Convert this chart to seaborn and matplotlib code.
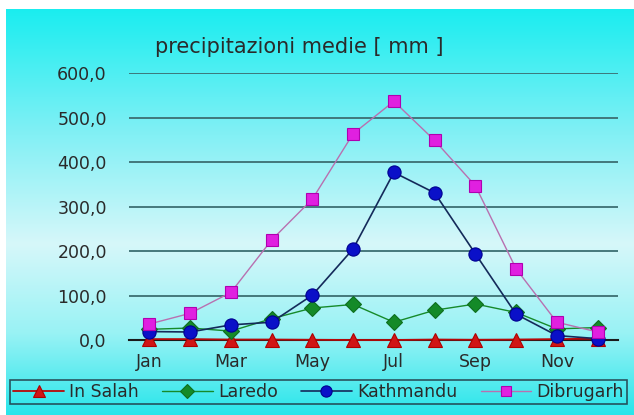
import numpy as np
import pandas as pd
import matplotlib
matplotlib.use("Agg")
import matplotlib.pyplot as plt
import seaborn as sns
from matplotlib.colors import LinearSegmentedColormap

# ---- data ----
months = ['Jan', 'Feb', 'Mar', 'Apr', 'May', 'Jun', 'Jul', 'Aug', 'Sep', 'Oct', 'Nov', 'Dec']
shown_months = ['Jan', 'Mar', 'May', 'Jul', 'Sep', 'Nov']
in_salah = [2, 2, 1, 1, 0.5, 0, 0, 1, 0.5, 1, 2, 3]
laredo = [24, 27, 20, 48, 72, 80, 40, 67, 81, 62, 25, 28]
kathmandu = [19, 18, 34, 40, 101, 205, 377, 331, 194, 58, 10, 3]
dibrugarh = [36, 60, 107, 225, 317, 464, 537, 449, 347, 160, 40, 18]
series_names = ['In Salah', 'Laredo', 'Kathmandu', 'Dibrugarh']
y_ticks = [0, 100, 200, 300, 400, 500, 600]
title = 'precipitazioni medie [ mm ]'

df = pd.DataFrame({
    'idx': list(range(len(months))) * 4,
    'month': months * 4,
    'value': in_salah + laredo + kathmandu + dibrugarh,
    'city': sum([[n] * len(months) for n in series_names], []),
})

sns.set_theme(style='white')
plt.rcParams['font.family'] = ['DejaVu Sans']

W, H = 634, 415
fig = plt.figure(figsize=(W / 100, H / 100), dpi=100)
fig.patch.set_facecolor('white')

# background gradient panel
bg = fig.add_axes([6 / W, 0, 1 - 6 / W, (H - 9) / H], zorder=-10)
cmap = LinearSegmentedColormap.from_list('bg', [
    (0.0, (0.10, 0.93, 0.94)),
    (0.30, (0.50, 0.94, 0.96)),
    (0.58, (0.84, 0.97, 0.98)),
    (0.80, (0.60, 0.95, 0.96)),
    (1.0, (0.16, 0.90, 0.92)),
])
grad = np.linspace(0, 1, 256).reshape(-1, 1)
bg.imshow(grad, aspect='auto', cmap=cmap, extent=[0, 1, 0, 1], origin='upper')
bg.set_axis_off()

ax = fig.add_axes([129 / W, (H - 340) / H, (618 - 129) / W, (340 - 73.3) / H])
ax.set_facecolor('none')

styles = {
    'In Salah': dict(color='#B80808', marker='^', mfc='#D01515', mec='#B00000', ms=9.5, lw=1.3),
    'Laredo': dict(color='#168A2A', marker='D', mfc='#148A28', mec='#0E6E1E', ms=8.5, lw=1.0),
    'Kathmandu': dict(color='#142A5A', marker='o', mfc='#0A10C8', mec='#000090', ms=9.5, lw=1.2),
    'Dibrugarh': dict(color='#B870B0', marker='s', mfc='#E020E0', mec='#B000B0', ms=8.5, lw=1.0),
}

for i, name in enumerate(series_names):
    st = styles[name]
    sub = df[df['city'] == name]
    sns.lineplot(data=sub, x='idx', y='value', ax=ax, color=st['color'], lw=st['lw'],
                 marker=st['marker'], markerfacecolor=st['mfc'], markeredgecolor=st['mec'],
                 markersize=st['ms'], markeredgewidth=0.8, label=name, zorder=5 + i,
                 clip_on=False)

ax.set_xlim(-0.5, len(months) - 0.5)
ax.set_ylim(0, 600)

# grid
ax.set_yticks(y_ticks)
ax.set_yticklabels([f"{v:.1f}".replace('.', ',') for v in y_ticks], fontsize=12.5, color='#2a2a2a')
for v in y_ticks[1:]:
    ax.axhline(v, color='#3C6E72', lw=1.3, zorder=1)

pos = [months.index(m) for m in shown_months]
ax.set_xticks(pos)
ax.set_xticklabels(shown_months, fontsize=12.5, color='#2a2a2a')
ax.set_xticks(np.arange(-0.5, len(months), 1), minor=True)
ax.tick_params(axis='x', which='major', length=0, pad=9)
ax.tick_params(axis='x', which='minor', length=5, width=1.3, color='#1a1a1a', direction='out')
ax.tick_params(axis='y', length=0, pad=16)
ax.set_xlabel('')
ax.set_ylabel('')

for s in ['left', 'right', 'top']:
    ax.spines[s].set_visible(False)
ax.spines['bottom'].set_color('#1a1a1a')
ax.spines['bottom'].set_linewidth(1.5)
ax.spines['bottom'].set_zorder(4)

fig.text(299 / W, 1 - 47 / H, title, ha='center', va='center', fontsize=15, color='#2a2a2a')

handles, labels = ax.get_legend_handles_labels()
leg = ax.legend(handles, labels, loc='center', ncol=4, mode='expand',
                bbox_to_anchor=(10 / W, (H - 405) / H, 617 / W, 26 / H),
                bbox_transform=fig.transFigure, fontsize=12.5, frameon=True,
                fancybox=False, facecolor='none', edgecolor='#1E2E3A',
                handlelength=2.9, handletextpad=0.3, columnspacing=1.0,
                borderpad=0.2, borderaxespad=0, markerscale=0.85)
leg.get_frame().set_linewidth(1.2)
for t in leg.get_texts():
    t.set_color('#2a2a2a')

fig.savefig('out.png', dpi=100)
